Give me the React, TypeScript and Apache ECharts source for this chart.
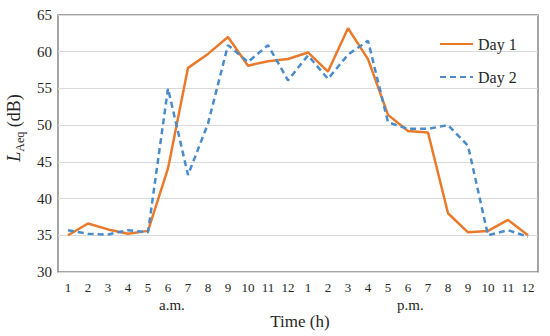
import React, { useEffect, useRef } from "react";
import * as echarts from "echarts";

const hours: string[] = [
  "1", "2", "3", "4", "5", "6", "7", "8", "9", "10", "11", "12",
  "1", "2", "3", "4", "5", "6", "7", "8", "9", "10", "11", "12",
];
const day1: number[] = [
  35.0, 36.6, 35.8, 35.2, 35.6, 44.1, 57.8, 59.7, 62.0, 58.1, 58.7, 59.0,
  59.9, 57.3, 63.2, 59.0, 51.4, 49.2, 49.0, 38.0, 35.4, 35.6, 37.1, 35.0,
];
const day2: number[] = [
  35.7, 35.2, 35.1, 35.7, 35.4, 55.0, 43.2, 50.2, 60.9, 58.6, 60.9, 56.1,
  59.5, 56.3, 59.6, 61.5, 50.4, 49.5, 49.5, 50.0, 47.2, 35.0, 35.7, 34.8,
];
const seriesNames: string[] = ["Day 1", "Day 2"];
const yTicks = { min: 30, max: 65, interval: 5 };

const FONT = "Liberation Serif";
const TXT = "#262626";

export default function App() {
  const ref = useRef<HTMLDivElement>(null);
  useEffect(() => {
    document.body.style.margin = "0";
    const chart = echarts.init(ref.current!, undefined, { renderer: "svg" });
    chart.setOption({
      animation: false,
      backgroundColor: "#ffffff",
      textStyle: { fontFamily: FONT, color: TXT },
      grid: {
        left: 58,
        right: 12,
        top: 15,
        bottom: 64,
        show: true,
        borderColor: "#868686",
        borderWidth: 1.5,
        containLabel: false,
      },
      legend: {
        orient: "vertical",
        left: 434,
        top: 31,
        itemWidth: 33,
        itemHeight: 14,
        itemGap: 17,
        itemStyle: { opacity: 0 },
        textStyle: { fontFamily: FONT, fontSize: 16, color: TXT },
        data: seriesNames,
      },
      xAxis: {
        type: "category",
        data: hours,
        boundaryGap: true,
        axisLine: { show: false },
        axisTick: { show: false },
        axisLabel: {
          interval: 0,
          margin: 9,
          fontFamily: FONT,
          fontSize: 13,
          color: TXT,
        },
      },
      yAxis: {
        type: "value",
        min: yTicks.min,
        max: yTicks.max,
        interval: yTicks.interval,
        axisLine: { show: false },
        axisTick: { show: false },
        axisLabel: {
          margin: 6,
          fontFamily: FONT,
          fontSize: 15,
          color: TXT,
        },
        splitLine: { lineStyle: { color: "#d9d9d9", width: 1 } },
      },
      graphic: [
        {
          type: "text",
          left: 173 - 14,
          top: 297,
          style: { text: "a.m.", font: `15px ${FONT}`, fill: TXT },
        },
        {
          type: "text",
          left: 411 - 14,
          top: 297,
          style: { text: "p.m.", font: `15px ${FONT}`, fill: TXT },
        },
        {
          type: "text",
          x: 300,
          y: 321,
          style: {
            text: "Time (h)",
            font: `17px ${FONT}`,
            fill: TXT,
            align: "center",
            verticalAlign: "middle",
          },
        },
        {
          type: "text",
          x: 13,
          y: 128,
          rotation: Math.PI / 2,
          style: {
            text: "{l|L}{s|Aeq}{n| (dB)}",
            align: "center",
            verticalAlign: "middle",
            fill: TXT,
            rich: {
              l: { fontFamily: FONT, fontSize: 18, fontStyle: "italic", fill: TXT, lineHeight: 20, verticalAlign: "bottom" },
              s: { fontFamily: FONT, fontSize: 12, fill: TXT, lineHeight: 20, verticalAlign: "bottom", padding: [0, 0, -3, 0] },
              n: { fontFamily: FONT, fontSize: 18, fill: TXT, lineHeight: 20, verticalAlign: "bottom" },
            },
          },
        },
      ],
      series: [
        {
          name: seriesNames[0],
          type: "line",
          data: day1,
          symbol: "none",
          lineStyle: { color: "#e97a2c", width: 2.5, type: "solid" },
          itemStyle: { color: "#e97a2c" },
        },
        {
          name: seriesNames[1],
          type: "line",
          data: day2,
          symbol: "none",
          lineStyle: { color: "#4a8ccb", width: 2.5, type: [6, 4] },
          itemStyle: { color: "#4a8ccb" },
        },
      ],
    });
    return () => chart.dispose();
  }, []);
  return <div ref={ref} style={{ width: 550, height: 336 }} />;
}
